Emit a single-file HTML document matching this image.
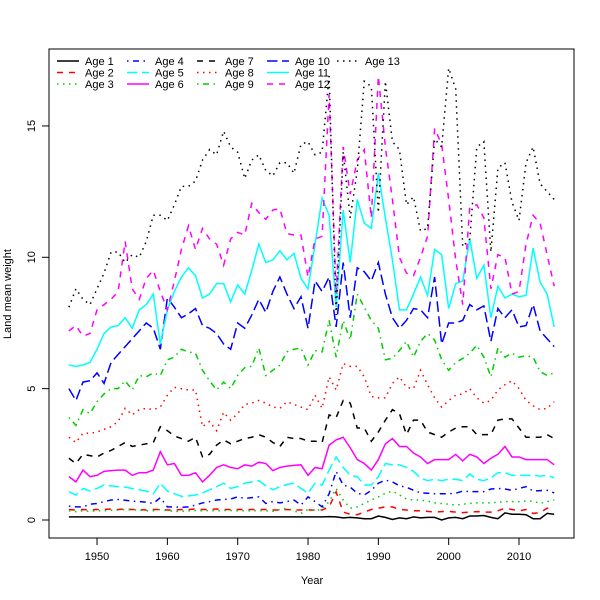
<!DOCTYPE html>
<html><head><meta charset="utf-8"><style>
body{margin:0;background:#fff;}
svg{display:block;font-family:"Liberation Sans",sans-serif;}
</style></head><body>
<svg id="chart" width="600" height="600" xmlns="http://www.w3.org/2000/svg">
<rect x="0" y="0" width="600" height="600" fill="#fff"/>
<g id="series"></g>
<rect x="49" y="49" width="525" height="489" fill="none" stroke="#000" stroke-width="1"/>
<g id="xaxis"></g>
<g id="yaxis"></g>
<text x="312" y="584" font-size="11" text-anchor="middle">Year</text>
<text x="0" y="0" font-size="11" text-anchor="middle" transform="translate(11,294) rotate(-90)">Land mean weight</text>
<g id="legend"></g>
</svg>
<script>
const years = [];
for (let y = 1946; y <= 2015; y++) years.push(y);
const xTicks = [1950, 1960, 1970, 1980, 1990, 2000, 2010];
const yTicks = [0, 5, 10, 15];
const seriesNames = ["Age 1","Age 2","Age 3","Age 4","Age 5","Age 6","Age 7","Age 8","Age 9","Age 10","Age 11","Age 12","Age 13"];

const age1 = [0.12,0.12,0.12,0.12,0.12,0.12,0.12,0.12,0.12,0.12,0.12,0.12,0.12,0.12,0.12,0.12,0.12,0.12,0.12,0.12,0.12,0.12,0.12,0.12,0.12,0.12,0.12,0.12,0.12,0.12,0.12,0.12,0.12,0.12,0.12,0.12,0.12,
0.13,0.12,0.08,0.1,0.08,0.05,0.05,0.15,0.1,0.02,0.08,0.05,0.12,0.08,0.1,0.1,0.0,0.08,0.1,0.05,0.15,0.15,0.17,0.1,0.05,0.27,0.22,0.22,0.2,0.05,0.05,0.25,0.22];
const age2 = [0.4,0.38,0.4,0.38,0.4,0.4,0.42,0.4,0.42,0.4,0.4,0.38,0.4,0.4,0.38,0.38,0.4,0.4,0.42,0.4,0.4,0.42,0.4,0.4,0.4,0.4,0.4,0.4,0.4,0.38,0.38,0.4,0.38,0.38,0.38,0.38,0.38,
0.5,1.07,0.3,0.22,0.2,0.3,0.4,0.45,0.5,0.5,
0.4,0.38,0.35,0.35,0.33,0.3,0.32,0.33,0.3,0.28,0.3,0.32,0.3,0.3,0.35,0.45,0.4,0.35,0.4,0.25,0.28,0.45,0.5];
const age3 = [0.35,0.32,0.35,0.33,0.35,0.35,0.37,0.38,0.4,0.38,0.38,0.35,0.35,0.4,0.35,0.33,0.33,0.35,0.36,0.35,0.36,0.35,0.36,0.36,0.35,0.35,0.35,0.36,0.35,0.33,0.4,0.45,0.35,0.25,0.4,0.35,0.42,
0.7,1.2,0.76,0.45,0.5,0.63,0.76,0.88,1.02,1.1,
0.95,0.8,0.76,0.76,0.72,0.65,0.63,0.6,0.57,0.6,0.63,0.65,0.65,0.65,0.68,0.7,0.7,0.7,0.72,0.72,0.63,0.7,0.76];
const age4 = [0.53,0.5,0.5,0.6,0.63,0.7,0.76,0.78,0.75,0.72,0.7,0.68,0.63,0.85,0.5,0.5,0.48,0.5,0.57,0.65,0.7,0.76,0.78,
0.8,0.88,0.82,0.85,0.88,0.63,0.7,0.65,0.7,0.76,0.57,0.88,0.7,0.5,1.0,1.85,1.33,1.25,1.02,0.95,1.13,1.4,1.52,1.45,
1.3,1.25,1.13,1.03,1.02,1.0,1.0,1.0,1.02,1.1,1.08,1.08,1.08,1.18,1.2,1.18,1.13,1.2,1.27,1.1,1.12,1.13,1.03];
const age5 = [1.08,0.95,1.2,1.1,1.2,1.33,1.3,1.27,1.25,1.2,1.15,1.1,1.0,1.4,1.1,1.0,0.9,0.92,0.95,1.03,1.15,1.27,1.4,
1.2,1.27,1.4,1.45,1.5,1.3,1.15,1.27,1.35,1.4,1.2,1.02,1.4,1.33,1.9,2.4,2.0,1.7,1.65,1.33,1.33,1.65,2.15,2.1,
2.1,2.0,1.85,1.6,1.5,1.55,1.5,1.55,1.55,1.5,1.75,1.55,1.5,1.6,1.8,1.8,1.7,1.7,1.7,1.7,1.67,1.7,1.6];
const age6 = [1.65,1.45,1.9,1.65,1.7,1.85,1.88,1.9,1.9,1.7,1.8,1.8,1.9,2.6,2.1,2.15,1.7,1.7,1.8,1.45,1.7,2.0,2.1,
2.0,1.95,2.1,2.05,2.2,2.15,1.88,2.0,2.05,2.08,2.1,1.7,2.0,1.95,2.85,3.05,3.15,2.75,2.3,2.15,1.9,2.3,2.9,3.1,
2.8,2.8,2.55,2.4,2.15,2.3,2.3,2.3,2.5,2.25,2.5,2.4,2.15,2.35,2.5,2.8,2.4,2.4,2.3,2.3,2.3,2.3,2.1];
const age7 = [2.35,2.15,2.5,2.45,2.4,2.55,2.65,2.8,2.95,2.8,2.85,2.9,2.95,3.55,3.4,3.2,3.1,3.0,3.15,2.4,2.5,2.85,3.05,2.9,3.0,
3.1,3.15,3.25,3.15,2.95,2.8,3.15,3.1,3.1,3.0,3.0,
2.95,4.0,3.9,4.55,4.45,3.5,3.5,3.0,3.35,3.8,4.2,4.05,3.25,
3.8,3.8,3.35,3.25,3.15,3.35,3.5,3.55,3.55,3.25,3.25,3.25,3.8,3.85,3.85,3.5,3.15,3.15,3.15,3.25,3.1];
const age8 = [3.15,2.95,3.3,3.3,3.35,3.45,3.55,3.75,4.25,4.0,4.2,4.25,4.2,4.3,4.75,5.05,5.0,4.95,4.95,3.55,3.75,3.4,4.1,3.8,4.05,
4.4,4.45,4.55,4.45,4.3,4.25,4.5,4.4,4.3,4.2,4.75,4.25,5.45,4.95,5.95,5.85,5.85,5.45,4.7,4.65,4.65,5.2,5.45,5.05,
5.0,5.7,5.15,4.65,4.3,4.55,4.75,4.8,5.0,4.65,4.45,4.55,4.95,5.15,5.3,5.0,4.55,4.35,4.2,4.25,4.5];
const age9 = [3.9,3.6,4.2,4.05,4.5,4.8,5.0,5.0,5.3,4.95,5.5,5.45,5.6,5.5,6.1,6.2,6.5,6.4,6.35,5.7,5.3,4.95,5.25,5.0,5.5,
5.8,5.85,6.55,5.5,5.7,5.9,6.4,6.5,6.55,5.9,6.45,6.4,7.6,6.2,7.6,6.85,8.6,8.1,7.6,7.3,6.1,6.15,6.45,6.8,
6.2,6.8,7.1,6.85,6.1,5.7,6.0,6.15,6.35,6.65,6.2,5.45,6.55,6.2,6.35,6.2,6.25,6.2,5.65,5.5,5.6];
const age10 = [5.0,4.55,5.25,5.3,5.6,5.2,6.0,6.3,6.6,6.9,7.2,7.5,7.3,6.5,
8.45,8.1,7.7,7.85,8.05,7.4,7.3,7.1,6.7,6.5,
7.5,7.3,7.8,8.4,7.9,8.7,9.25,8.6,8.05,8.5,7.3,9.1,8.7,
9.25,7.35,9.8,7.7,9.6,9.45,9.1,9.8,8.6,7.7,7.3,7.6,
8.05,8.0,7.7,9.25,6.7,7.5,7.5,7.6,8.2,8.0,8.15,6.8,8.05,7.7,8.0,7.35,7.4,8.2,7.2,6.9,6.6];
const age11 = [5.9,5.85,5.9,6.0,6.5,7.1,7.35,7.4,7.7,7.3,
8.0,8.2,8.6,6.7,8.0,8.7,9.25,9.6,9.3,8.45,
8.6,9.0,9.0,8.3,8.95,8.6,9.5,10.5,9.8,9.9,
10.25,9.9,10.15,9.2,8.8,10.5,12.25,11.6,8.1,11.8,
9.8,12.2,11.3,11.1,13.2,11.5,9.9,8.0,8.0,8.6,
9.25,8.55,10.3,10.1,8.05,9.0,9.1,10.7,9.2,9.7,
7.7,8.9,8.45,8.6,8.5,8.55,10.35,9.05,8.6,7.35];
const age12 = [7.2,7.4,7.0,7.1,8.0,8.2,8.4,8.7,10.6,8.8,
8.4,9.2,9.5,8.7,8.0,9.1,10.3,11.2,10.3,11.1,
10.7,10.5,9.7,10.7,10.95,10.85,12.05,11.7,11.45,11.8,
11.85,10.9,10.85,10.85,9.25,10.7,10.8,16.2,8.6,14.2,
12.4,13.7,14.1,11.5,16.9,14.2,12.2,10.0,9.4,9.3,
10.0,10.8,14.9,14.3,12.2,9.9,8.2,11.9,12.0,11.5,
8.8,10.1,10.0,8.6,8.7,10.5,11.6,11.3,10.1,8.9];
const age13 = [8.1,8.8,8.4,8.2,8.8,9.4,10.2,10.2,9.8,10.1,
10.0,10.6,11.6,11.6,11.4,12.0,12.7,12.7,12.9,13.7,
14.1,13.9,14.8,14.2,14.0,13.0,13.7,13.9,13.3,13.1,
13.6,13.6,13.2,14.3,14.4,13.9,14.0,16.9,7.8,14.0,
11.5,13.3,16.7,16.5,11.7,16.7,14.4,14.1,12.0,12.3,
11.0,11.1,14.5,14.2,17.2,16.4,10.4,10.7,14.2,14.4,
10.2,13.4,13.6,12.1,11.4,13.6,14.2,12.8,12.5,12.2];

const allSeries = [age1,age2,age3,age4,age5,age6,age7,age8,age9,age10,age11,age12,age13];
const colors = ["#000000","#ff0000","#00cd00","#0000ff","#00ffff","#ff00ff"];
const dashes = ["", "6,6", "1.5,4.5", "1.5,4.5,6,4.5", "10.5,4.5"];

const X0 = 68.9, XPY = 7.033;
function xs(yr){ return X0 + (yr - 1946) * XPY; }
function ys(v){ return 520 - v * 26.27; }
const NS = "http://www.w3.org/2000/svg";
function mk(tag, attrs, parent){ const e = document.createElementNS(NS, tag); for (const k in attrs) e.setAttribute(k, attrs[k]); parent.appendChild(e); return e; }

const sg = document.getElementById('series');
allSeries.forEach((vals, i) => {
  const d = vals.map((v, j) => (j ? 'L' : 'M') + xs(years[j]).toFixed(2) + ',' + ys(v).toFixed(2)).join(' ');
  const p = mk('path', {d: d, fill: 'none', stroke: colors[i % 6], 'stroke-width': 1.5}, sg);
  if (dashes[i % 5]) p.setAttribute('stroke-dasharray', dashes[i % 5]);
  
  
});

const xg = document.getElementById('xaxis');
xTicks.forEach(t => {
  const x = xs(t);
  const l = mk('line', {x1: x, x2: x, y1: 538, y2: 545, stroke: '#000'}, xg);
  
  
  const tx = mk('text', {x: x, y: 560, 'font-size': 11, 'text-anchor': 'middle'}, xg);
  tx.textContent = t;
  
  
});
const yg = document.getElementById('yaxis');
yTicks.forEach(t => {
  const y = ys(t);
  const l = mk('line', {x1: 42, x2: 49, y1: y, y2: y, stroke: '#000'}, yg);
  
  
  const tx = mk('text', {x: 0, y: 0, 'font-size': 11, 'text-anchor': 'middle', transform: 'translate(35,' + y + ') rotate(-90)'}, yg);
  tx.textContent = t;
  
  
});

const lg = document.getElementById('legend');
seriesNames.forEach((n, i) => {
  const col = Math.floor(i / 3), row = i % 3;
  const lx = 57 + col * 70, ly = 61 + row * 11.5;
  const l = mk('line', {x1: lx, x2: lx + 22, y1: ly, y2: ly, stroke: colors[i % 6], 'stroke-width': 1.5}, lg);
  if (dashes[i % 5]) l.setAttribute('stroke-dasharray', dashes[i % 5]);
  
  
  const tx = mk('text', {x: lx + 28, y: ly + 4, 'font-size': 11}, lg);
  tx.textContent = n;
  
  
});
</script>
</body></html>
